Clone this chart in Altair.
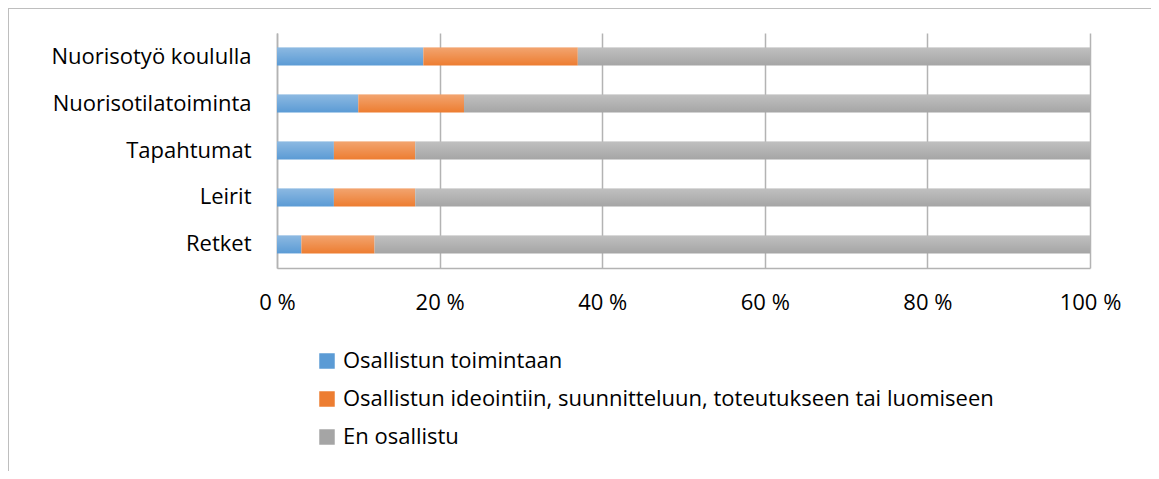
import altair as alt
import pandas as pd

categories = ["Nuorisotyö koululla", "Nuorisotilatoiminta", "Tapahtumat", "Leirit", "Retket"]
series = [
    "Osallistun toimintaan",
    "Osallistun ideointiin, suunnitteluun, toteutukseen tai luomiseen",
    "En osallistu",
]
toiminta = [18, 10, 7, 7, 3]
ideointi = [19, 13, 10, 10, 9]
en_osallistu = [63, 77, 83, 83, 88]
colors = ["#5B9BD5", "#ED7D31", "#A5A5A5"]

rows = []
for i, c in enumerate(categories):
    for j, (s, vals) in enumerate(zip(series, [toiminta, ideointi, en_osallistu])):
        rows.append({"category": c, "series": s, "value": vals[i], "order": j})
df = pd.DataFrame(rows)

FONT = "Open Sans"
FS = 22

y_enc = alt.Y("category:N", sort=categories, title=None,
              scale=alt.Scale(paddingInner=0.617, paddingOuter=0.31),
              axis=alt.Axis(ticks=False, labelPadding=26, labelFontSize=FS,
                            labelColor="#000000", labelFont=FONT, labelLimit=300,
                            domainColor="#b3b3b3", domainWidth=1.5))
x_enc = alt.X("value:Q", stack="normalize", title=None,
              scale=alt.Scale(domain=[0, 1]),
              axis=alt.Axis(values=[0, 0.2, 0.4, 0.6, 0.8, 1.0],
                            labelExpr="format(datum.value*100, 'd') + ' %'",
                            labelFlush=False,
                            ticks=False, labelPadding=24, labelFontSize=FS,
                            labelColor="#000000", labelFont=FONT,
                            grid=True, gridColor="#b3b3b3", gridWidth=1.5,
                            domainColor="#b3b3b3", domainWidth=1.5))

base = alt.Chart(df).mark_bar().encode(
    x=x_enc,
    y=y_enc,
    color=alt.Color("series:N", sort=series,
                    scale=alt.Scale(domain=series, range=colors),
                    legend=alt.Legend(title=None, orient="none", legendX=39, legendY=317,
                                      symbolType="square", symbolSize=240,
                                      symbolStrokeWidth=0,
                                      labelFontSize=FS, labelFont=FONT,
                                      labelColor="#000000", labelLimit=900,
                                      labelOffset=5, rowPadding=16)),
    order=alt.Order("order:Q"),
)

overlay = alt.Chart(df).mark_bar(
    fill={"gradient": "linear", "x1": 0, "x2": 0, "y1": 0, "y2": 1,
          "stops": [{"offset": 0, "color": "rgba(255,255,255,0.3)"},
                    {"offset": 1, "color": "rgba(255,255,255,0)"}]}
).encode(
    x=alt.X("value:Q", stack="normalize"),
    y=alt.Y("category:N", sort=categories),
    detail="series:N",
    order=alt.Order("order:Q"),
)

frame = alt.Chart(df).mark_rect(fill=None, stroke="#bfbfbf", strokeWidth=1.5).encode(
    x=alt.value(-269), x2=alt.value(900), y=alt.value(-25), y2=alt.value(460)
)

chart = alt.layer(frame, base, overlay).properties(
    width=813, height=235,
    autosize=alt.AutoSizeParams(type="none"),
    padding={"left": 269, "top": 25, "right": 61, "bottom": 203},
).configure_view(stroke=None)

chart.save("out.html", embed_options={"renderer": "svg", "actions": False})
